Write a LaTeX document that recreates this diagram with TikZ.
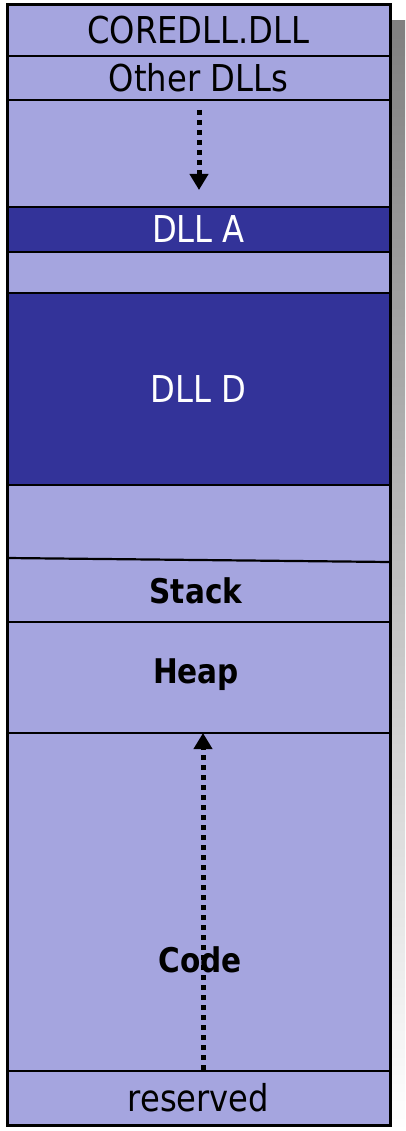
\documentclass[tikz,border=0pt]{standalone}
\usepackage{fontspec}
\setmainfont{DejaVu Sans}[FakeStretch=0.87]
\usetikzlibrary{arrows.meta}
\definecolor{lite}{RGB}{165,165,223}
\definecolor{dark}{RGB}{51,51,153}
\definecolor{shade}{RGB}{128,128,128}
\tikzset{
  region/.style={draw=black, line width=2.2pt, fill=lite, rectangle, inner sep=0pt, outer sep=0pt,
    minimum width=383pt, anchor=north west, font=\fontsize{37}{40}\selectfont},
  dllbox/.style={region, fill=dark, text=white},
  boldlab/.style={font=\bfseries\fontsize{34}{40}\selectfont, inner sep=0pt},
  growth/.style={line width=5pt, dash pattern=on 5pt off 5pt, -{Triangle[width=18pt,length=16pt]}}
}
\begin{document}
\begin{tikzpicture}[x=1pt,y=-1pt]
\useasboundingbox (0,0) rectangle (405,1131);
\fill[shade] (22,21) rectangle (405,1131);
\node[region, minimum height=51pt] (core) at (7,5) {COREDLL.DLL};
\node[region, minimum height=44pt] (other) at (7,56) {Other DLLs};
\node[region, minimum height=107pt] (gap1) at (7,100) {};
\node[dllbox, minimum height=45pt] (dlla) at (7,207) {DLL A};
\node[region, minimum height=41pt] (gap2) at (7,252) {};
\node[dllbox, minimum height=192pt] (dlld) at (7,293) {DLL D};
\node[region, minimum height=137pt] (free) at (7,485) {};
\node[region, minimum height=111pt] (heap) at (7,622) {};
\node[region, minimum height=338pt] (code) at (7,733) {};
\node[region, minimum height=54pt] (reserved) at (7,1071) {\raisebox{-4pt}{reserved}};
\coordinate (sl) at (7,558);
\coordinate (sr) at (390,562);
\draw[line width=2.2pt] (sl) -- (sr);
\node[boldlab] (stack) at (196,591) {Stack};
\node[boldlab] (heaplab) at (196,675) {Heap};
\node[boldlab] (codelab) at (200,960) {Code};
\coordinate (a1s) at (199,110);
\coordinate (a1e) at (199,190);
\draw[growth] (a1s) -- (a1e);
\coordinate (a2s) at (203,1070);
\draw[growth] (a2s) -- (a2s |- heap.south);
\draw[line width=3pt] (core.north west) rectangle (reserved.south east);
\end{tikzpicture}
\end{document}
